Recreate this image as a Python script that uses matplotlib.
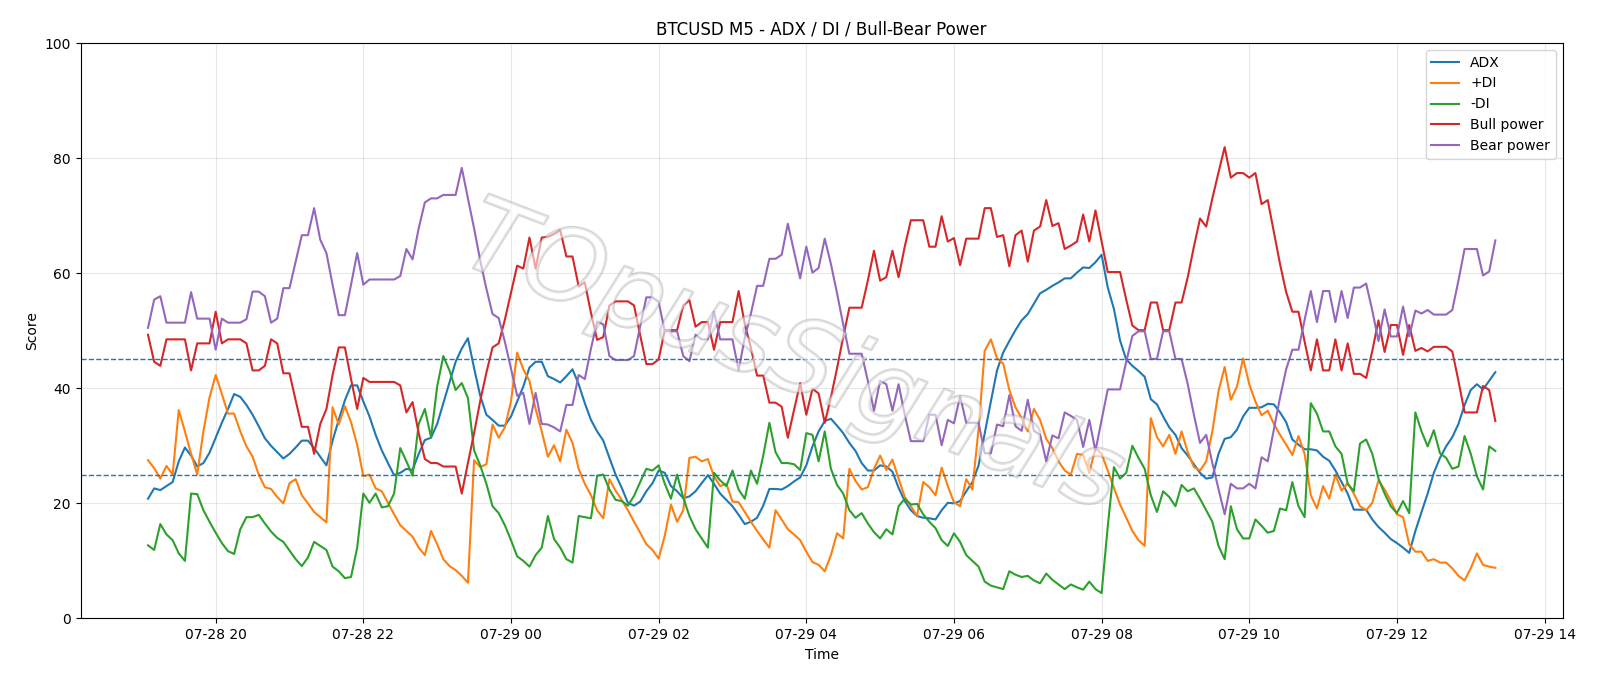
import pandas as pd
import matplotlib
matplotlib.use("Agg")
import matplotlib.pyplot as plt
import matplotlib.dates as mdates
import matplotlib.patheffects as pe

# 5-minute bars, 07-28 19:05 -> 07-29 13:20
start_time = "2025-07-28 19:05"

adx = [
    20.8, 22.6, 22.3, 23.0, 23.7, 27.3, 29.7, 28.3, 26.4, 27.0,
    28.8, 31.4, 34.0, 36.4, 39.0, 38.5, 37.1, 35.4, 33.4, 31.3,
    30.0, 28.9, 27.8, 28.6, 29.7, 30.9, 30.9, 29.6, 28.1, 26.6,
    30.9, 34.5, 37.9, 40.5, 40.5, 37.7, 35.1, 31.9, 29.2, 27.0,
    24.9, 25.3, 26.0, 25.8, 28.6, 31.0, 31.4, 33.8, 37.4, 41.0,
    44.6, 46.9, 48.7, 43.5, 38.7, 35.4, 34.5, 33.5, 33.5, 35.1,
    37.7, 40.3, 43.6, 44.6, 44.6, 42.1, 41.6, 41.0, 42.1, 43.3,
    40.7, 37.4, 34.5, 32.5, 30.9, 27.9, 25.0, 22.7, 20.1, 19.6,
    20.3, 22.1, 23.5, 25.7, 25.3, 23.0, 22.1, 20.9, 21.2, 22.1,
    23.5, 24.9, 23.4, 21.7, 20.6, 19.5, 18.0, 16.4, 16.8, 17.5,
    19.6, 22.5, 22.5, 22.4, 23.0, 23.8, 24.5, 26.6, 29.9, 32.5,
    34.3, 34.7, 33.5, 32.2, 30.5, 29.1, 27.0, 25.7, 25.7, 26.6,
    26.4, 25.5, 22.7, 20.4, 18.8, 17.8, 17.5, 17.4, 17.2, 18.8,
    20.1, 20.0, 20.4, 22.1, 23.7, 26.6, 32.2, 37.7, 43.1, 46.2,
    48.2, 50.1, 51.8, 52.9, 54.7, 56.5, 57.1, 57.8, 58.4, 59.1,
    59.1, 60.1, 61.0, 60.9, 61.9, 63.2, 57.5, 53.8, 48.3, 45.0,
    43.9, 43.0, 42.0, 38.1, 37.2, 35.1, 33.2, 31.9, 29.6, 28.3,
    26.8, 25.3, 24.3, 24.5, 28.6, 31.2, 31.5, 32.8, 35.1, 36.6,
    36.6, 36.7, 37.3, 37.2, 35.8, 34.1, 31.1, 30.2, 29.4, 29.4,
    29.2, 28.1, 27.4, 25.7, 23.7, 21.7, 18.9, 18.9, 18.9, 17.2,
    15.9, 14.9, 13.8, 13.1, 12.3, 11.4, 15.2, 18.5, 21.7, 25.3,
    27.9, 29.9, 31.5, 33.8, 37.1, 39.7, 40.7, 39.8, 41.3, 42.8,
]

plus_di = [
    27.5, 26.1, 24.3, 26.5, 25.0, 36.2, 32.5, 28.6, 25.0, 32.5,
    38.4, 42.3, 39.0, 35.6, 35.6, 32.5, 29.9, 28.1, 25.0, 22.8,
    22.5, 21.1, 20.0, 23.5, 24.2, 21.4, 20.0, 18.5, 17.6, 16.7,
    36.7, 33.7, 36.9, 34.1, 30.2, 24.7, 25.0, 22.6, 22.1, 20.1,
    18.1, 16.2, 15.2, 14.2, 12.3, 11.0, 15.2, 12.9, 10.3, 9.1,
    8.4, 7.4, 6.2, 27.5, 26.3, 26.8, 33.7, 31.4, 33.2, 37.7,
    46.2, 43.3, 41.3, 36.4, 32.5, 28.1, 30.1, 27.3, 32.8, 30.5,
    26.0, 23.4, 21.4, 18.8, 17.4, 24.2, 22.2, 20.6, 18.8, 16.8,
    14.9, 12.9, 11.9, 10.4, 14.4, 19.8, 16.8, 18.8, 27.9, 28.1,
    27.3, 27.7, 24.7, 23.0, 23.4, 20.3, 20.2, 18.5, 16.8, 15.2,
    13.7, 12.3, 18.8, 17.2, 15.5, 14.6, 13.6, 11.6, 9.8, 9.3,
    8.2, 11.0, 14.8, 13.9, 26.0, 23.9, 22.4, 22.8, 26.0, 28.3,
    25.8, 27.6, 24.3, 21.1, 19.5, 17.8, 23.7, 22.8, 21.4, 26.2,
    23.0, 20.2, 19.5, 24.2, 22.4, 33.0, 46.5, 48.5, 45.2, 44.3,
    39.7, 36.7, 34.8, 32.5, 36.4, 34.5, 31.2, 29.6, 27.3, 25.7,
    25.0, 28.6, 28.4, 25.3, 29.6, 28.6, 25.7, 22.7, 19.8, 17.5,
    15.2, 13.6, 12.6, 34.8, 31.5, 29.9, 31.9, 28.6, 32.5, 28.9,
    26.3, 25.7, 27.3, 32.5, 39.5, 43.7, 38.0, 40.3, 45.2, 40.7,
    37.7, 35.3, 36.1, 33.8, 31.9, 30.2, 28.4, 31.7, 28.6, 21.4,
    19.1, 23.0, 20.8, 25.0, 22.2, 23.5, 21.7, 19.5, 18.8, 20.1,
    24.0, 22.4, 20.4, 18.1, 17.6, 12.9, 11.6, 11.6, 10.0, 10.3,
    9.7, 9.7, 8.7, 7.4, 6.6, 8.7, 11.3, 9.3, 9.0, 8.8,
]

minus_di = [
    12.7, 11.9, 16.4, 14.6, 13.6, 11.3, 10.0, 21.7, 21.6, 18.8,
    16.8, 14.9, 13.1, 11.7, 11.2, 15.5, 17.6, 17.6, 18.0, 16.5,
    15.1, 14.0, 13.3, 11.8, 10.3, 9.1, 10.6, 13.3, 12.6, 11.9,
    9.0, 8.2, 7.0, 7.2, 12.3, 21.7, 20.1, 21.7, 19.3, 19.5,
    21.7, 29.6, 27.3, 24.8, 33.8, 36.4, 31.5, 40.3, 45.6, 43.1,
    39.7, 40.9, 38.3, 29.2, 26.6, 23.4, 19.5, 18.3, 16.2, 13.6,
    10.8, 10.0, 9.0, 11.0, 12.3, 17.8, 13.8, 12.3, 10.3, 9.7,
    17.8, 17.6, 17.4, 24.8, 25.0, 22.4, 20.6, 20.4, 19.6, 21.3,
    23.7, 26.0, 25.7, 26.6, 23.4, 20.8, 25.0, 21.0, 17.8, 15.5,
    13.9, 12.3, 25.3, 24.0, 23.0, 25.7, 22.4, 20.8, 25.7, 23.4,
    28.3, 34.0, 28.9, 27.0, 27.0, 26.8, 25.8, 32.2, 31.9, 27.3,
    32.5, 26.0, 23.2, 21.7, 18.8, 17.5, 18.3, 16.5, 15.0, 13.9,
    15.5, 14.6, 19.5, 20.8, 19.8, 19.9, 18.1, 16.8, 15.7, 13.6,
    12.6, 14.8, 13.3, 11.0, 10.0, 9.0, 6.4, 5.7, 5.4, 5.1,
    8.2, 7.6, 7.2, 7.4, 6.6, 6.1, 7.8, 6.7, 5.9, 5.1,
    5.9, 5.4, 5.0, 6.4, 5.1, 4.4, 16.0, 26.3, 24.3, 25.3,
    30.0, 27.9, 26.0, 21.4, 18.5, 22.1, 21.1, 19.5, 23.2, 22.1,
    22.6, 20.8, 18.8, 16.8, 12.6, 10.3, 19.5, 15.5, 13.9, 13.9,
    17.2, 16.1, 14.9, 15.2, 19.1, 18.8, 23.7, 19.5, 17.6, 37.4,
    35.6, 32.5, 32.5, 29.9, 28.6, 23.4, 22.1, 30.4, 31.1, 28.6,
    24.3, 21.7, 19.5, 18.3, 20.4, 18.3, 35.8, 32.5, 29.9, 32.7,
    28.7, 27.9, 26.0, 26.4, 31.7, 28.6, 24.7, 22.4, 29.9, 29.1,
]

bull_power = [
    49.3, 44.6, 43.9, 48.5, 48.5, 48.5, 48.5, 43.1, 47.8, 47.8,
    47.8, 53.3, 47.8, 48.5, 48.5, 48.5, 47.8, 43.1, 43.1, 43.9,
    48.5, 47.8, 42.6, 42.6, 37.9, 33.3, 33.3, 28.6, 33.8, 36.4,
    42.3, 47.1, 47.1, 41.6, 36.4, 41.8, 41.1, 41.1, 41.1, 41.1,
    41.1, 40.5, 35.8, 37.6, 32.2, 27.7, 27.0, 27.0, 26.4, 26.4,
    26.4, 21.7, 27.0, 32.2, 37.8, 42.7, 47.1, 47.8, 51.9, 56.6,
    61.3, 60.8, 66.2, 60.8, 66.2, 66.3, 66.8, 67.5, 62.9, 62.9,
    57.7, 58.4, 53.1, 48.4, 48.9, 54.4, 55.1, 55.1, 55.1, 54.4,
    49.2, 44.2, 44.2, 45.0, 50.1, 50.1, 50.1, 54.4, 55.3, 50.7,
    51.5, 51.5, 46.7, 51.5, 51.5, 51.5, 56.9, 51.2, 47.0, 42.2,
    42.2, 37.5, 37.5, 36.8, 31.4, 36.2, 40.9, 35.4, 39.9, 39.1,
    34.0, 38.4, 43.5, 48.9, 54.0, 54.0, 54.0, 58.7, 63.9, 58.7,
    59.3, 63.9, 59.3, 64.6, 69.2, 69.2, 69.2, 64.6, 64.6, 69.9,
    65.5, 66.1, 61.4, 66.0, 66.0, 66.0, 71.3, 71.3, 66.3, 66.6,
    61.2, 66.6, 67.4, 62.0, 67.4, 68.1, 72.7, 68.2, 68.7, 64.2,
    64.8, 65.5, 70.2, 65.5, 70.9, 65.5, 60.2, 60.2, 60.2, 55.4,
    50.9, 50.1, 50.1, 54.9, 54.9, 50.1, 50.1, 54.9, 54.9, 59.3,
    64.6, 69.5, 68.1, 73.0, 77.5, 81.9, 76.6, 77.4, 77.4, 76.6,
    77.4, 72.0, 72.7, 67.1, 61.6, 56.7, 53.3, 53.3, 48.1, 43.1,
    48.5, 43.1, 43.1, 48.5, 43.1, 47.8, 42.5, 42.5, 41.8, 46.5,
    51.8, 46.3, 51.0, 51.0, 45.8, 51.0, 46.5, 47.0, 46.4, 47.2,
    47.2, 47.2, 46.4, 41.3, 35.8, 35.8, 35.8, 40.4, 39.7, 34.3,
]

bear_power = [
    50.5, 55.4, 56.0, 51.4, 51.4, 51.4, 51.4, 56.7, 52.1, 52.1,
    52.1, 46.7, 52.1, 51.4, 51.4, 51.4, 52.0, 56.8, 56.8, 56.0,
    51.4, 52.1, 57.4, 57.4, 62.0, 66.6, 66.6, 71.3, 65.8, 63.5,
    58.0, 52.7, 52.7, 58.0, 63.5, 58.0, 58.9, 58.9, 58.9, 58.9,
    58.9, 59.5, 64.2, 62.4, 67.8, 72.3, 73.0, 73.0, 73.6, 73.6,
    73.6, 78.3, 73.0, 67.8, 62.2, 57.3, 52.9, 52.2, 48.1, 43.4,
    38.7, 39.2, 33.8, 39.2, 33.8, 33.7, 33.2, 32.5, 37.1, 37.1,
    42.3, 41.6, 46.9, 51.6, 51.1, 45.6, 44.9, 44.9, 44.9, 45.6,
    50.8, 55.8, 55.8, 55.0, 49.9, 49.9, 49.9, 45.6, 44.7, 49.3,
    48.5, 48.5, 53.3, 48.5, 48.5, 48.5, 43.1, 48.8, 53.0, 57.8,
    57.8, 62.5, 62.5, 63.2, 68.6, 63.8, 59.1, 64.6, 60.1, 60.9,
    66.0, 61.6, 56.5, 51.1, 46.0, 46.0, 46.0, 41.3, 36.1, 41.3,
    40.7, 36.1, 40.7, 35.4, 30.8, 30.8, 30.8, 35.4, 35.4, 30.1,
    34.5, 33.9, 38.6, 34.0, 34.0, 34.0, 28.7, 28.7, 33.7, 33.4,
    38.8, 33.4, 32.6, 38.0, 32.6, 31.9, 27.3, 31.8, 31.3, 35.8,
    35.2, 34.5, 29.8, 34.5, 29.1, 34.5, 39.8, 39.8, 39.8, 44.6,
    49.1, 49.9, 49.9, 45.1, 45.1, 49.9, 49.9, 45.1, 45.1, 40.7,
    35.4, 30.5, 31.9, 27.0, 22.5, 18.1, 23.4, 22.6, 22.6, 23.4,
    22.6, 28.0, 27.3, 32.9, 38.4, 43.3, 46.7, 46.7, 51.9, 56.9,
    51.5, 56.9, 56.9, 51.5, 56.9, 52.2, 57.5, 57.5, 58.2, 53.5,
    48.2, 53.7, 49.0, 49.0, 54.2, 49.0, 53.5, 53.0, 53.6, 52.8,
    52.8, 52.8, 53.6, 58.7, 64.2, 64.2, 64.2, 59.6, 60.3, 65.7,
]

levels = [25, 45]
watermark = "TOpusSignals"

times = pd.date_range(start_time, periods=len(adx), freq="5min")

fig, ax = plt.subplots(figsize=(16, 6.86), dpi=100)
fig.subplots_adjust(left=0.0504, right=0.9767, top=0.9373, bottom=0.0985)

ax.plot(times, adx, label="ADX")
ax.plot(times, plus_di, label="+DI")
ax.plot(times, minus_di, label="-DI")
ax.plot(times, bull_power, label="Bull power")
ax.plot(times, bear_power, label="Bear power")

for lvl in levels:
    ax.axhline(lvl, linestyle="--", linewidth=1)

ax.set_ylim(0, 100)
ax.xaxis.set_major_locator(mdates.HourLocator(interval=2))
ax.xaxis.set_major_formatter(mdates.DateFormatter("%m-%d %H"))
ax.set_title("BTCUSD M5 - ADX / DI / Bull-Bear Power")
ax.set_xlabel("Time")
ax.set_ylabel("Score")
ax.grid(True, alpha=0.3)
ax.legend(loc="upper right")

# faint outlined watermark over the plot
ax.text(0.48, 0.45, watermark, transform=ax.transAxes, fontsize=74,
        color="white", alpha=0.35, rotation=-21, ha="center", va="center",
        style="italic", zorder=5,
        path_effects=[pe.withStroke(linewidth=2.0, foreground="#8c8c8c")])

fig.savefig("out.png", dpi=100)
